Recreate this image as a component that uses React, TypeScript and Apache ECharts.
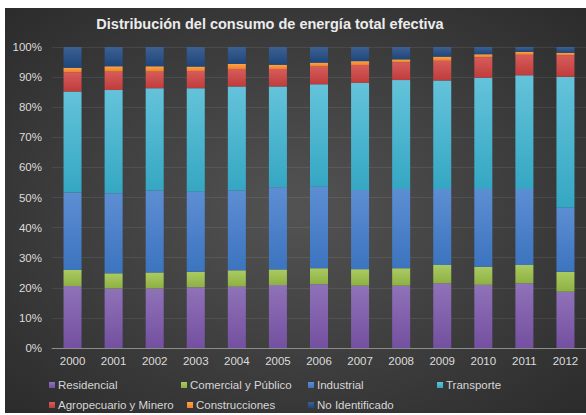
import React, { useEffect, useRef } from 'react';
import * as echarts from 'echarts';

const years = ['2000', '2001', '2002', '2003', '2004', '2005', '2006', '2007', '2008', '2009', '2010', '2011', '2012'];
const residencial = [20.6, 19.8, 19.8, 20.2, 20.4, 20.9, 21.2, 20.7, 20.7, 21.5, 21.0, 21.5, 18.7];
const comercial = [5.3, 5.0, 5.3, 5.1, 5.4, 5.2, 5.3, 5.5, 5.8, 6.1, 6.0, 6.1, 6.6];
const industrial = [25.8, 26.6, 27.2, 26.6, 26.5, 27.3, 27.1, 26.3, 26.3, 25.2, 25.8, 25.2, 21.3];
const transporte = [33.5, 34.3, 34.0, 34.4, 34.6, 33.5, 34.0, 35.6, 36.2, 36.1, 37.0, 37.8, 43.5];
const agropecuario = [6.4, 6.1, 5.5, 5.7, 5.8, 5.8, 5.9, 5.9, 5.9, 6.5, 6.8, 6.8, 7.2];
const construcciones = [1.5, 1.8, 1.8, 1.5, 1.7, 1.4, 1.3, 1.3, 1.0, 1.4, 1.0, 1.0, 0.8];
const noIdentificado = [6.9, 6.4, 6.4, 6.5, 5.6, 5.9, 5.2, 4.7, 4.1, 3.2, 2.4, 1.6, 1.9];

const seriesNames = ['Residencial', 'Comercial y Público', 'Industrial', 'Transporte', 'Agropecuario y Minero', 'Construcciones', 'No Identificado'];
const seriesData = [residencial, comercial, industrial, transporte, agropecuario, construcciones, noIdentificado];
const title = 'Distribución del consumo de energía total efectiva';

const FONT = '"Liberation Sans", Arial, sans-serif';

export default function App() {
  const ref = useRef<HTMLDivElement>(null);
  useEffect(() => {
    document.body.style.margin = '0';
    const chart = echarts.init(ref.current!, null, { renderer: 'svg' });
    const colors: [string, string, string][] = [
      ['#8f72b8', '#7450a0', '#8064a2'],
      ['#abcb62', '#8db043', '#9bbb59'],
      ['#5d8ed3', '#3c74bf', '#4f81bd'],
      ['#64c3da', '#35a7c3', '#4bacc6'],
      ['#d65c5a', '#bf3c3c', '#c0504d'],
      ['#fba548', '#f07f2c', '#f79646'],
      ['#3d6092', '#1e467c', '#1f497d'],
    ];
    const legendPos = [
      { left: 49, top: 379 },
      { left: 181, top: 379 },
      { left: 308, top: 379 },
      { left: 437, top: 379 },
      { left: 49, top: 399 },
      { left: 187, top: 399 },
      { left: 308, top: 399 },
    ];
    const option: any = {
      animation: false,
      backgroundColor: '#ffffff',
      textStyle: { fontFamily: FONT },
      graphic: [
        {
          type: 'rect',
          z: -10,
          silent: true,
          shape: { x: 5, y: 8, width: 581, height: 405 },
          style: {
            fill: {
              type: 'radial', x: 0.5, y: 0.5, r: 0.8,
              colorStops: [
                { offset: 0, color: '#535353' },
                { offset: 1, color: '#262626' },
              ],
            },
          },
        },
        {
          type: 'text',
          x: 270,
          y: 24,
          style: {
            text: title,
            fill: '#ececec',
            font: `bold 14.5px ${FONT}`,
            textAlign: 'center',
            textVerticalAlign: 'middle',
          },
        },
      ],
      legend: seriesNames.map((n, i) => ({
        data: [n],
        left: legendPos[i].left,
        top: legendPos[i].top,
        padding: 0,
        itemWidth: 6,
        itemHeight: 6,
        icon: 'rect',
        selectedMode: false,
        textStyle: { color: '#d6d6d6', fontSize: 11.5, fontFamily: FONT, padding: [0, 0, 0, -2] },
      })),
      grid: { left: 52, top: 47, width: 537, height: 301, containLabel: false },
      xAxis: {
        type: 'category',
        data: years,
        axisTick: { show: false },
        axisLine: { lineStyle: { color: '#8c8c8c', width: 1 } },
        axisLabel: { color: '#dcdcdc', fontSize: 11.5, margin: 7, fontFamily: FONT },
      },
      yAxis: {
        type: 'value',
        min: 0,
        max: 100,
        interval: 10,
        axisLine: { show: false },
        axisTick: { show: false },
        splitLine: { lineStyle: { color: 'rgba(255,255,255,0.08)', width: 1 } },
        axisLabel: { color: '#dcdcdc', fontSize: 11.5, margin: 10, formatter: '{value}%', fontFamily: FONT },
      },
      series: seriesNames.map((n, i) => ({
        name: n,
        type: 'bar',
        stack: 'total',
        barWidth: 18,
        data: seriesData[i],
        color: colors[i][2],
        itemStyle: {
          color: {
            type: 'linear', x: 0, y: 0, x2: 0, y2: 1,
            colorStops: [
              { offset: 0, color: colors[i][0] },
              { offset: 1, color: colors[i][1] },
            ],
          },
        },
      })),
    };
    chart.setOption(option);
    return () => chart.dispose();
  }, []);
  return <div ref={ref} style={{ width: 586, height: 415 }} />;
}
